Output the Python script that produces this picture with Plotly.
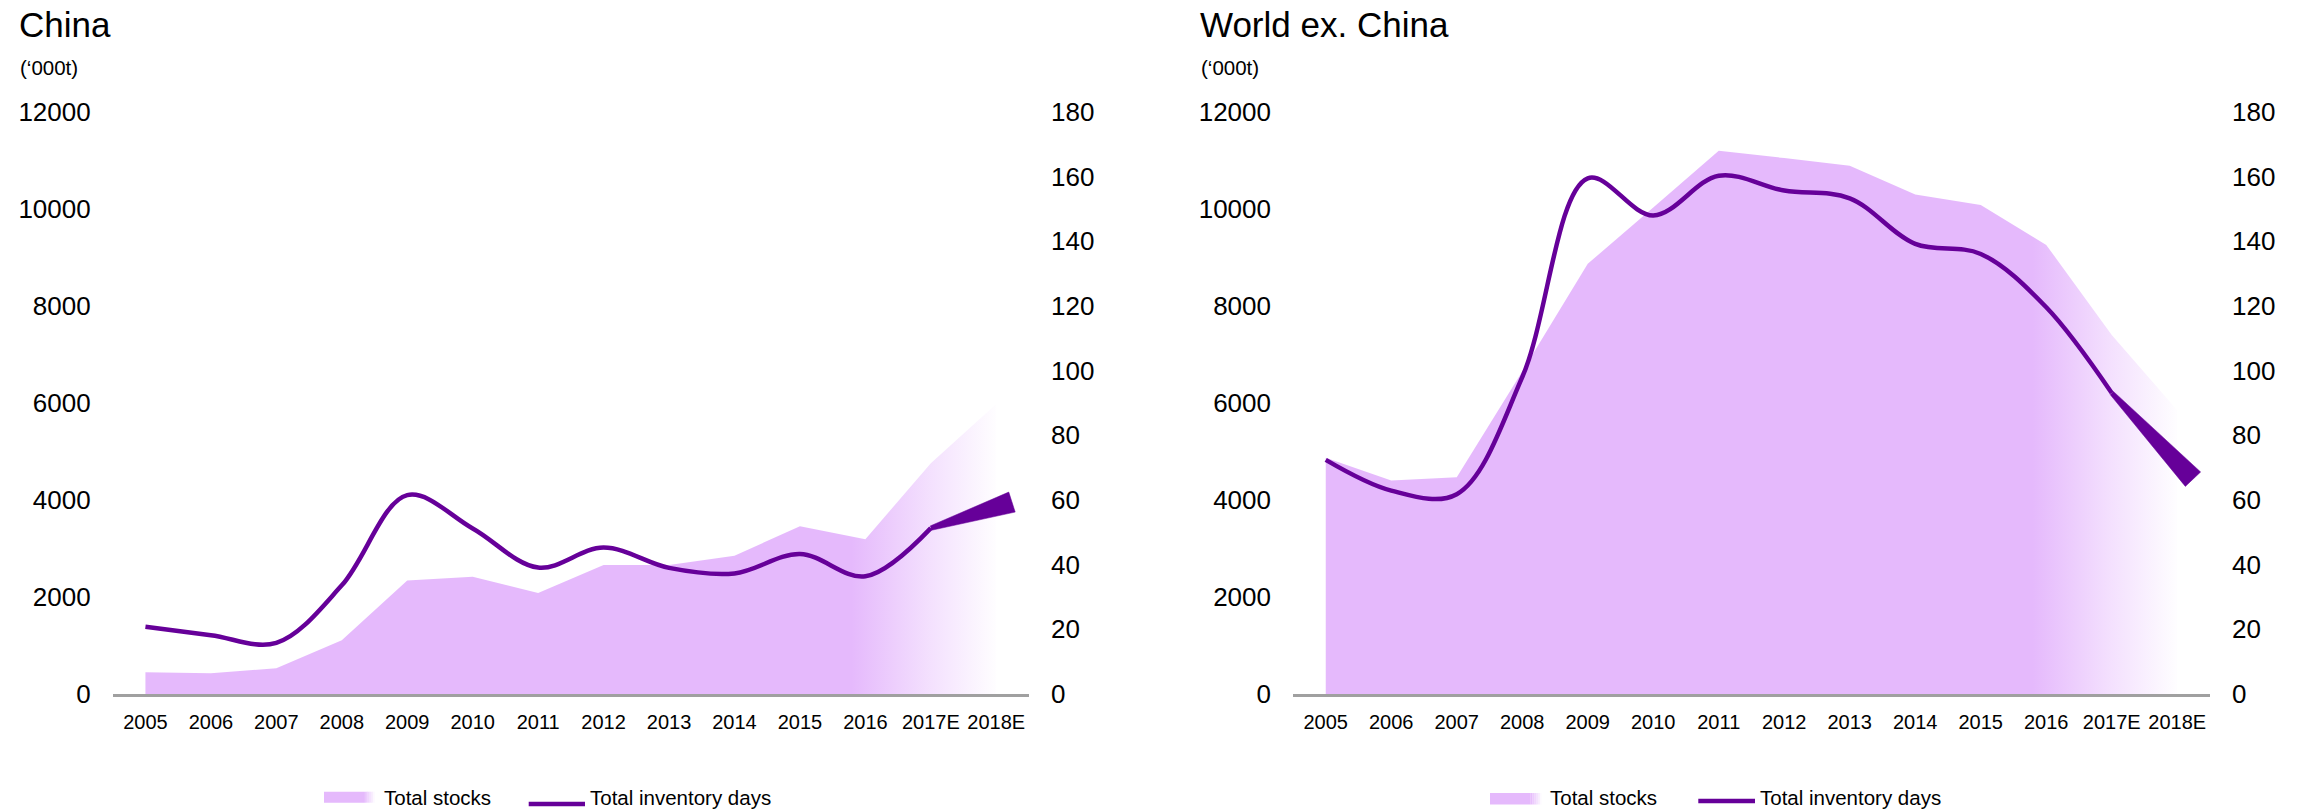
import math
import plotly.graph_objects as go

# ---------------- data ----------------
categories = ["2005", "2006", "2007", "2008", "2009", "2010", "2011",
              "2012", "2013", "2014", "2015", "2016", "2017E", "2018E"]

china_stocks = [450, 430, 530, 1110, 2340, 2420, 2080, 2660, 2660, 2850, 3460, 3190, 4760, 5980]
china_days = [20.8, 18.2, 15.8, 33.6, 61.5, 51.2, 39.1, 45.3, 39.0, 37.3, 43.3, 36.4, 51.3, 57.8]

world_stocks = [4870, 4400, 4470, 6650, 8870, 10030, 11200, 11050, 10890, 10300, 10080, 9260, 7400, 5850]
world_days = [72.4, 62.9, 61.8, 98.0, 159.5, 148.0, 160.3, 155.7, 153.3, 139.2, 136.1, 119.6, 93.1, 71.6]

left_ticks = [0, 2000, 4000, 6000, 8000, 10000, 12000]
right_ticks = [0, 20, 40, 60, 80, 100, 120, 140, 160, 180]

panel_titles = ["China", "World ex. China"]
unit_label = "(\u2018000t)"
legend_labels = ["Total stocks", "Total inventory days"]

# ---------------- style ----------------
W, H = 2303, 809
FILL_RGB = "229,185,252"
FILL = f"rgb({FILL_RGB})"
LINE = "rgb(102,0,153)"
GRAY = "rgb(160,160,160)"
FONT = "Liberation Sans, Arial, sans-serif"
LINE_W = 4.5
WEDGE_HALF_PX = 10.5     # half-thickness of the forecast wedge end (px)
WEDGE_OVERSHOOT = 0.24   # how far the wedge tip runs past the last category


def px(x):
    return x / W


def py(y):
    return 1 - y / H


Y_BOTTOM, Y_TOP = 694, 112
panels = [
    dict(title=panel_titles[0], stocks=china_stocks, days=china_days,
         x0=112.7, x1=1029, xa="x", ya="y", ya2="y2", tx=17,
         leg=dict(sw=(324, 375), swy=(791.7, 802.7), t1=381.5, ty1=797,
                  ln=(528.7, 585), lny=804, t2=588.3, ty2=797)),
    dict(title=panel_titles[1], stocks=world_stocks, days=world_days,
         x0=1293, x1=2210, xa="x2", ya="y3", ya2="y4", tx=1198,
         leg=dict(sw=(1490, 1541.7), swy=(793, 804.5), t1=1548.3, ty1=797,
                  ln=(1698.3, 1755), lny=801, t2=1758.3, ty2=797)),
]

fig = go.Figure()
annotations = []
shapes = []
layout_axes = {}
n = len(categories)
idx = list(range(n))

for i, p in enumerate(panels):
    # area of total stocks with fade on forecast years
    fig.add_trace(go.Scatter(
        x=idx, y=p["stocks"], xaxis=p["xa"], yaxis=p["ya"],
        mode="none", fill="tozeroy",
        fillgradient=dict(type="horizontal",
                          colorscale=[[0, FILL], [0.83, FILL],
                                      [0.92, f"rgba({FILL_RGB},0.45)"],
                                      [1, f"rgba({FILL_RGB},0.02)"]]),
        showlegend=False, hoverinfo="skip"))
    # inventory days (smoothed line) up to 2017E
    fig.add_trace(go.Scatter(
        x=idx[:n - 1], y=p["days"][:n - 1], xaxis=p["xa"], yaxis=p["ya2"],
        mode="lines", line=dict(color=LINE, width=LINE_W, shape="spline", smoothing=1.0),
        showlegend=False, hoverinfo="skip"))

    # forecast wedge 2017E -> 2018E, computed in pixel space
    sx = (p["x1"] - p["x0"]) / n                 # px per category
    sy = (Y_BOTTOM - Y_TOP) / right_ticks[-1]    # px per day
    d = p["days"]
    x_a, y_a = idx[n - 2], d[n - 2]
    x_b, y_b = idx[n - 1], d[n - 1]
    dxp, dyp = (x_b - x_a) * sx, (y_b - y_a) * sy
    L = math.hypot(dxp, dyp)
    ux, uy = dxp / L, dyp / L
    nx, ny = -uy, ux
    tip_x = x_b + WEDGE_OVERSHOOT
    tip_y = y_b + (WEDGE_OVERSHOOT * sx) * uy / ux / sy
    s0 = LINE_W / 2
    wx = [x_a + nx * s0 / sx, tip_x + nx * WEDGE_HALF_PX / sx,
          tip_x - nx * WEDGE_HALF_PX / sx, x_a - nx * s0 / sx]
    wy = [y_a + ny * s0 / sy, tip_y + ny * WEDGE_HALF_PX / sy,
          tip_y - ny * WEDGE_HALF_PX / sy, y_a - ny * s0 / sy]
    fig.add_trace(go.Scatter(
        x=wx, y=wy, xaxis=p["xa"], yaxis=p["ya2"], mode="lines", fill="toself",
        fillcolor=LINE, line=dict(color=LINE, width=0.5),
        showlegend=False, hoverinfo="skip"))

    xkey = "xaxis" if p["xa"] == "x" else "xaxis" + p["xa"][1:]
    ykey = "yaxis" if p["ya"] == "y" else "yaxis" + p["ya"][1:]
    y2key = "yaxis" + p["ya2"][1:]
    layout_axes[xkey] = dict(
        domain=[px(p["x0"]), px(p["x1"])], anchor=p["ya"], type="linear",
        range=[-0.5, n - 0.5], tickvals=idx, ticktext=categories,
        showline=True, linecolor=GRAY, linewidth=2.5,
        showgrid=False, zeroline=False, ticks="", ticklabelstandoff=8,
        automargin=False,
        tickfont=dict(size=20, color="black", family=FONT), fixedrange=True)
    layout_axes[ykey] = dict(
        domain=[py(Y_BOTTOM), py(Y_TOP)], anchor=p["xa"], range=[0, 12000],
        tickvals=left_ticks, tickformat="d", showgrid=False, zeroline=False,
        showline=False, ticks="", ticklabelstandoff=21, automargin=False,
        tickfont=dict(size=26, color="black", family=FONT), fixedrange=True)
    layout_axes[y2key] = dict(
        overlaying=p["ya"], anchor=p["xa"], side="right", range=[0, 180],
        tickvals=right_ticks, showgrid=False, zeroline=False, showline=False,
        ticks="", ticklabelstandoff=21, automargin=False,
        tickfont=dict(size=26, color="black", family=FONT), fixedrange=True)

    # titles
    annotations.append(dict(text=p["title"], xref="paper", yref="paper",
                            x=px(p["tx"]), y=py(24), xanchor="left", yanchor="middle",
                            showarrow=False, font=dict(size=35, color="black", family=FONT)))
    annotations.append(dict(text=unit_label, xref="paper", yref="paper",
                            x=px(p["tx"] + 1), y=py(67.5), xanchor="left", yanchor="middle",
                            showarrow=False, font=dict(size=20.5, color="black", family=FONT)))

    # legend (manual)
    Lg = p["leg"]
    sx0, sx1 = Lg["sw"]
    fade_start = sx1 - 11
    shapes.append(dict(type="rect", xref="paper", yref="paper",
                       x0=px(sx0), x1=px(fade_start), y0=py(Lg["swy"][1]), y1=py(Lg["swy"][0]),
                       fillcolor=FILL, line=dict(width=0)))
    steps = 6
    for k in range(steps):
        a = 1 - (k + 0.5) / steps
        xa0 = fade_start + (sx1 - fade_start) * k / steps
        xa1 = fade_start + (sx1 - fade_start) * (k + 1) / steps
        shapes.append(dict(type="rect", xref="paper", yref="paper",
                           x0=px(xa0), x1=px(xa1), y0=py(Lg["swy"][1]), y1=py(Lg["swy"][0]),
                           fillcolor=f"rgba({FILL_RGB},{a:.2f})", line=dict(width=0)))
    shapes.append(dict(type="line", xref="paper", yref="paper",
                       x0=px(Lg["ln"][0]), x1=px(Lg["ln"][1]), y0=py(Lg["lny"]), y1=py(Lg["lny"]),
                       line=dict(color=LINE, width=4.5)))
    annotations.append(dict(text=legend_labels[0], xref="paper", yref="paper",
                            x=px(Lg["t1"]), y=py(Lg["ty1"]), xanchor="left", yanchor="middle",
                            showarrow=False, font=dict(size=20.5, color="black", family=FONT)))
    annotations.append(dict(text=legend_labels[1], xref="paper", yref="paper",
                            x=px(Lg["t2"]), y=py(Lg["ty2"]), xanchor="left", yanchor="middle",
                            showarrow=False, font=dict(size=20.5, color="black", family=FONT)))

fig.update_layout(
    width=W, height=H,
    margin=dict(l=0, r=0, t=0, b=0, pad=0, autoexpand=False),
    paper_bgcolor="white", plot_bgcolor="rgba(0,0,0,0)",
    font=dict(family=FONT, color="black"),
    showlegend=False,
    annotations=annotations, shapes=shapes,
    **layout_axes,
)

fig.write_html("out.html")
